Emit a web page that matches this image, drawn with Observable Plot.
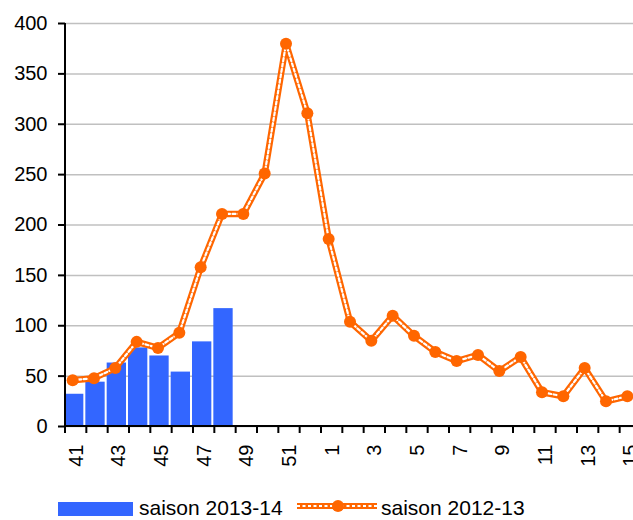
<!DOCTYPE html>
<html>
<head>
<meta charset="utf-8">
<script src="https://cdn.jsdelivr.net/npm/d3@7"></script>
<script src="https://cdn.jsdelivr.net/npm/@observablehq/plot@0.6"></script>
<style>
  html, body { margin: 0; padding: 0; background: white; }
  #chart { width: 633px; height: 520px; overflow: hidden; position: relative; }
  svg { display: block; }
</style>
</head>
<body>
<div id="chart"></div>
<script>
const weeks = ["41","42","43","44","45","46","47","48","49","50","51","52",
               "1","2","3","4","5","6","7","8","9","10","11","12","13","14","15"];
const season1314 = [32, 44, 63, 78, 70, 54, 84, 117];
const season1213 = [46, 48, 58, 84, 78, 93, 158, 211, 211, 251, 380, 311,
                    186, 104, 85, 110, 90, 74, 65, 71, 55, 69, 34, 30, 58, 25, 30];
const yTicks = [0, 50, 100, 150, 200, 250, 300, 350, 400];
const xLabels = weeks.filter((d, i) => i % 2 === 0);
const seriesNames = ["saison 2013-14", "saison 2012-13"];

const blue = "#3366ff";
const orange = "#ff6600";
const font = "'Liberation Sans', Arial, sans-serif";

const barData = season1314.map((v, i) => ({week: weeks[i], value: v}));
const lineData = season1213.map((v, i) => ({week: weeks[i], value: v}));

const plot = Plot.plot({
  width: 633,
  height: 485,
  marginLeft: 65,
  marginTop: 23,
  marginBottom: 59,
  marginRight: 0,
  style: {fontFamily: font, fontSize: "20px", color: "black", background: "white", overflow: "hidden"},
  x: {type: "band", domain: weeks, range: [65, 641], padding: 0, round: false, label: null},
  y: {domain: [0, 400], label: null},
  marks: [
    Plot.gridY(yTicks, {stroke: "#c0c0c0", strokeOpacity: 1, strokeWidth: 1.5}),
    Plot.barY(barData, {x: "week", y: "value", fill: blue, insetLeft: 0.5, insetRight: 1.5, dx: -1.5}),
    Plot.line(lineData, {x: "week", y: "value", stroke: orange, strokeWidth: 6.5, dx: -3.5}),
    Plot.line(lineData, {x: "week", y: "value", stroke: "white", strokeWidth: 2.2, strokeDasharray: "3,2.5", dx: -3.5}),
    Plot.dot(lineData, {x: "week", y: "value", r: 6, fill: orange, stroke: "none", dx: -3.5}),
    Plot.axisY(yTicks, {anchor: "left", tickSize: 7, tickPadding: 11, strokeWidth: 2, fontSize: 20, label: null}),
    Plot.axisX(xLabels, {anchor: "bottom", tickSize: 0, tickPadding: 18, tickRotate: -90, fontSize: 20, label: null}),
    // axis lines and boundary ticks
    (index, scales, values, dims) => {
      const g = d3.create("svg:g").attr("stroke", "black").attr("stroke-width", 2);
      const y0 = scales.y(0), y1 = scales.y(400);
      const xl = dims.marginLeft;
      g.append("line").attr("x1", xl).attr("x2", xl).attr("y1", y1).attr("y2", y0 + 1);
      g.append("line").attr("x1", xl - 1).attr("x2", dims.width).attr("y1", y0).attr("y2", y0);
      const bw = scales.x.bandwidth ? scales.x.bandwidth() : 0;
      const bounds = weeks.map(w => scales.x(w)).concat([scales.x(weeks[weeks.length - 1]) + bw]);
      for (const bx of bounds) {
        g.append("line").attr("x1", bx).attr("x2", bx).attr("y1", y0).attr("y2", y0 + 7);
      }
      return g.node();
    }
  ]
});
document.getElementById("chart").appendChild(plot);

// legend (svg spans y 485..520)
const leg = d3.select("#chart").append("svg")
  .attr("width", 633).attr("height", 35)
  .style("font-family", font).style("font-size", "21px");
leg.append("rect").attr("x", 58).attr("y", 17).attr("width", 75).attr("height", 14).attr("fill", blue);
leg.append("text").attr("x", 139).attr("y", 30).text(seriesNames[0]);
leg.append("line").attr("x1", 297).attr("x2", 377).attr("y1", 21).attr("y2", 21)
  .attr("stroke", orange).attr("stroke-width", 6);
leg.append("line").attr("x1", 297).attr("x2", 377).attr("y1", 21).attr("y2", 21)
  .attr("stroke", "white").attr("stroke-width", 2.2).attr("stroke-dasharray", "3,2.5");
leg.append("circle").attr("cx", 338).attr("cy", 21).attr("r", 6).attr("fill", orange);
leg.append("text").attr("x", 381).attr("y", 30).text(seriesNames[1]);
</script>
</body>
</html>
